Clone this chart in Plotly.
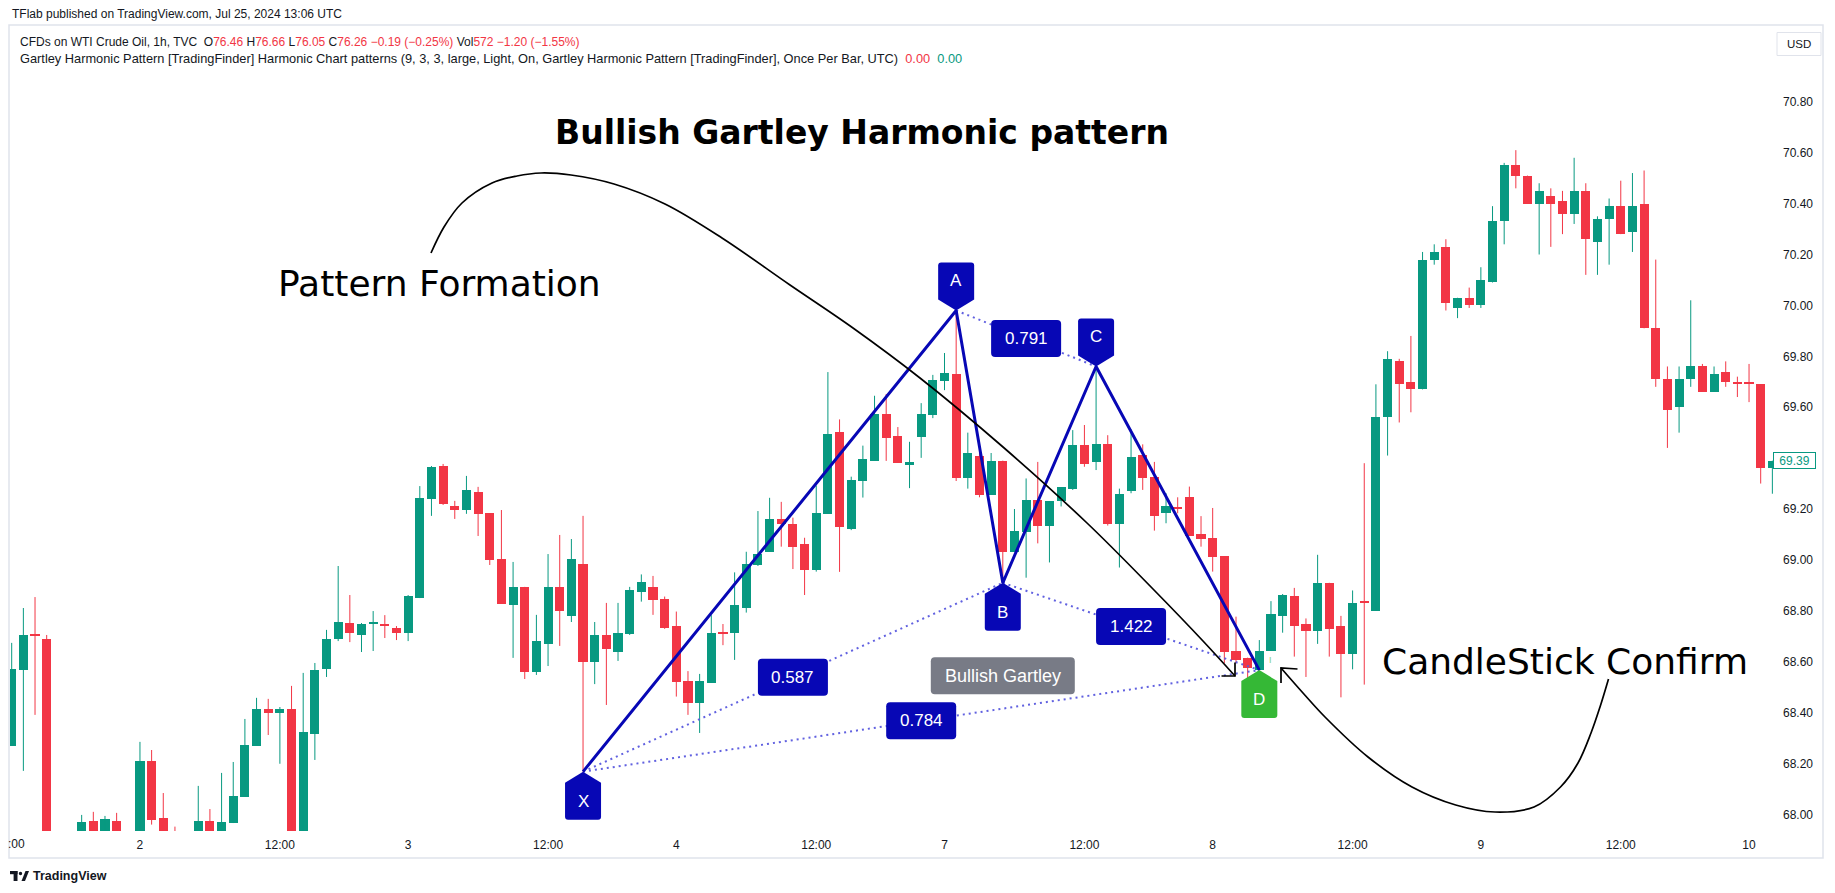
import plotly.graph_objects as go

# ---------------- data (1h candles, bar index 0 = 12:00 of the first day) ----------------
opens = [68.270, 68.567, 68.709, 68.689, 67.780, 67.820, 67.860, 67.974, 67.900, 67.974,
         67.880, 67.870, 68.210, 67.986, 67.930, 67.840, 67.880, 67.974, 67.920, 67.966,
         68.069, 68.270, 68.414, 68.400, 68.414, 67.880, 68.317, 68.571, 68.689, 68.752,
         68.705, 68.748, 68.744, 68.733, 68.713, 68.850, 69.239, 69.369, 69.212, 69.196,
         69.267, 69.184, 69.004, 68.823, 68.894, 68.560, 68.670, 68.894, 68.780, 68.984,
         68.599, 68.705, 68.638, 68.709, 68.875, 68.893, 68.848, 68.742, 68.526, 68.439,
         68.518, 68.713, 68.712, 68.812, 68.980, 69.032, 69.161, 69.141, 69.062, 68.960,
         69.182, 69.502, 69.121, 69.311, 69.390, 69.573, 69.487, 69.374, 69.484, 69.569,
         69.703, 69.730, 69.320, 69.410, 69.256, 69.390, 69.030, 69.110, 69.235, 69.135,
         69.230, 69.280, 69.450, 69.386, 69.455, 69.142, 69.270, 69.414, 69.326, 69.183,
         69.209, 69.247, 69.102, 69.087, 69.015, 68.642, 68.616, 68.567, 68.643, 68.780,
         68.860, 68.750, 68.720, 68.910, 68.740, 68.630, 68.840, 68.800, 69.560, 69.780,
         69.700, 69.670, 70.180, 70.230, 69.990, 70.030, 70.000, 70.090, 70.330, 70.550,
         70.510, 70.400, 70.430, 70.410, 70.360, 70.450, 70.250, 70.340, 70.390, 70.290,
         70.400, 69.910, 69.710, 69.600, 69.710, 69.760, 69.660, 69.740, 69.700, 69.700,
         69.690, 69.360]
highs = [68.674, 68.811, 68.854, 68.705, 67.880, 67.900, 67.998, 68.010, 67.994, 68.006,
         67.920, 68.285, 68.253, 68.084, 67.952, 67.920, 68.112, 68.021, 68.163, 68.206,
         68.375, 68.458, 68.454, 68.422, 68.505, 68.556, 68.595, 68.725, 68.976, 68.862,
         68.752, 68.799, 68.783, 68.740, 68.862, 69.290, 69.369, 69.377, 69.232, 69.330,
         69.287, 69.184, 69.196, 68.992, 68.894, 68.784, 69.023, 69.098, 69.082, 69.173,
         68.756, 68.831, 68.831, 68.894, 68.943, 68.937, 68.856, 68.797, 68.563, 68.552,
         68.783, 68.748, 68.951, 69.032, 69.192, 69.244, 69.228, 69.166, 69.087, 69.292,
         69.738, 69.552, 69.327, 69.449, 69.645, 69.652, 69.522, 69.464, 69.616, 69.727,
         69.813, 69.980, 69.500, 69.455, 69.420, 69.390, 69.200, 69.320, 69.385, 69.230,
         69.285, 69.510, 69.530, 69.760, 69.490, 69.280, 69.513, 69.454, 69.385, 69.262,
         69.246, 69.288, 69.172, 69.204, 69.015, 68.777, 68.616, 68.685, 68.838, 68.866,
         68.890, 68.770, 69.020, 68.910, 68.780, 68.880, 69.380, 69.690, 69.820, 69.790,
         69.880, 70.210, 70.240, 70.260, 70.030, 70.070, 70.150, 70.390, 70.560, 70.610,
         70.510, 70.480, 70.460, 70.450, 70.580, 70.480, 70.350, 70.420, 70.490, 70.520,
         70.530, 70.180, 69.760, 69.760, 70.020, 69.770, 69.760, 69.780, 69.720, 69.770,
         69.690, 69.390]
lows = [68.270, 68.171, 68.391, 67.700, 67.680, 67.720, 67.840, 67.860, 67.870, 67.850,
        67.800, 67.850, 67.960, 67.850, 67.800, 67.780, 67.860, 67.880, 67.900, 67.966,
        68.069, 68.270, 68.312, 68.199, 67.850, 67.860, 68.214, 68.540, 68.681, 68.677,
        68.638, 68.642, 68.693, 68.685, 68.681, 68.850, 69.173, 69.216, 69.161, 69.181,
        69.094, 68.980, 68.827, 68.615, 68.532, 68.548, 68.583, 68.662, 68.756, 68.168,
        68.512, 68.430, 68.603, 68.705, 68.836, 68.784, 68.729, 68.463, 68.391, 68.320,
        68.518, 68.665, 68.607, 68.793, 68.976, 69.032, 69.052, 68.964, 68.862, 68.954,
        69.182, 68.953, 69.117, 69.245, 69.390, 69.389, 69.382, 69.282, 69.401, 69.557,
        69.667, 69.310, 69.280, 69.246, 69.256, 68.910, 69.030, 68.930, 69.065, 68.990,
        69.210, 69.275, 69.366, 69.353, 69.135, 68.970, 69.262, 69.275, 69.115, 69.144,
        69.183, 69.095, 69.052, 68.954, 68.594, 68.594, 68.491, 68.567, 68.643, 68.714,
        68.620, 68.540, 68.670, 68.620, 68.460, 68.570, 68.510, 68.800, 69.410, 69.540,
        69.580, 69.670, 70.160, 69.980, 69.950, 69.990, 69.990, 70.090, 70.240, 70.460,
        70.400, 70.200, 70.230, 70.280, 70.320, 70.120, 70.120, 70.160, 70.280, 70.210,
        69.910, 69.680, 69.440, 69.500, 69.680, 69.660, 69.660, 69.680, 69.640, 69.620,
        69.300, 69.260]
closes = [68.571, 68.705, 68.701, 67.780, 67.820, 67.860, 67.970, 67.900, 67.982, 67.880,
          67.870, 68.210, 67.979, 67.880, 67.840, 67.880, 67.974, 67.920, 67.970, 68.072,
          68.273, 68.414, 68.400, 68.414, 67.880, 68.324, 68.567, 68.689, 68.756, 68.713,
          68.748, 68.756, 68.742, 68.713, 68.858, 69.243, 69.365, 69.220, 69.196, 69.275,
          69.181, 68.999, 68.827, 68.894, 68.560, 68.681, 68.894, 68.799, 69.004, 68.599,
          68.705, 68.650, 68.713, 68.882, 68.912, 68.844, 68.734, 68.522, 68.439, 68.526,
          68.714, 68.709, 68.823, 68.984, 69.024, 69.161, 69.141, 69.052, 68.960, 69.184,
          69.495, 69.131, 69.314, 69.396, 69.573, 69.480, 69.382, 69.385, 69.573, 69.707,
          69.736, 69.320, 69.420, 69.255, 69.390, 69.030, 69.115, 69.235, 69.135, 69.230,
          69.285, 69.450, 69.378, 69.455, 69.142, 69.260, 69.406, 69.323, 69.174, 69.212,
          69.201, 69.095, 69.083, 69.013, 68.640, 68.607, 68.574, 68.642, 68.786, 68.862,
          68.740, 68.720, 68.910, 68.730, 68.630, 68.830, 68.830, 69.560, 69.790, 69.690,
          69.670, 70.180, 70.210, 70.010, 70.030, 70.000, 70.100, 70.330, 70.550, 70.510,
          70.400, 70.450, 70.400, 70.360, 70.450, 70.260, 70.340, 70.390, 70.280, 70.390,
          69.910, 69.710, 69.590, 69.710, 69.760, 69.660, 69.730, 69.700, 69.690, 69.690,
          69.360, 69.390]

time_tick_bars = [11, 23, 34, 46, 57, 69, 80, 92, 103, 115, 126, 138, 149]
time_tick_labels = ["2", "12:00", "3", "12:00", "4", "12:00", "7", "12:00", "8",
                    "12:00", "9", "12:00", "10"]
price_ticks = [68.00, 68.20, 68.40, 68.60, 68.80, 69.00, 69.20, 69.60, 69.80,
               70.00, 70.20, 70.40, 70.60, 70.80]
last_price = 69.39

pattern_names = ["X", "A", "B", "C", "D"]
pattern_bars = [49, 81, 85, 93, 107]
pattern_prices = [68.168, 69.980, 68.910, 69.760, 68.567]
ratio_texts = ["0.587", "0.791", "1.422", "0.784"]
ratio_from = ["X", "A", "B", "X"]
ratio_to = ["B", "C", "D", "D"]

# ---------------- geometry of the picture ----------------
W, H = 1835, 893
PL, PR, PT, PB = 10, 1774, 26, 831          # plot pane in pixels
BAR0_PX, BAR_PX = 11.7, 11.66              # x pixel of bar 0, pixels per bar
REF_PRICE, REF_PY, PX_PER_UNIT = 70.80, 101.8, 254.5

x_range = [(PL - BAR0_PX) / BAR_PX, (PR - BAR0_PX) / BAR_PX]
y_range = [REF_PRICE - (PB - REF_PY) / PX_PER_UNIT, REF_PRICE + (REF_PY - PT) / PX_PER_UNIT]


def bx2px(b):
    return BAR0_PX + b * BAR_PX


def pr2py(p):
    return REF_PY + (REF_PRICE - p) * PX_PER_UNIT


def px2bx(px):
    return (px - BAR0_PX) / BAR_PX


def py2pr(py):
    return REF_PRICE - (py - REF_PY) / PX_PER_UNIT


def pap(px, py):
    return (px - PL) / (PR - PL), (PB - py) / (PB - PT)


def fmt(px, py):
    return f"{px2bx(px):.4f},{py2pr(py):.5f}"


GREEN, RED = "#089981", "#f23645"
BLUE = "#0707b5"
DOT = "rgba(88,88,222,0.95)"
TXT = "#131722"

fig = go.Figure()

# ---------------- candles ----------------
n = len(opens)
bars = list(range(n))
colors = [GREEN if c >= o else RED for o, c in zip(opens, closes)]
min_h = 1.2 / PX_PER_UNIT
bases = [min(o, c) for o, c in zip(opens, closes)]
heights = [max(abs(c - o), min_h) for o, c in zip(opens, closes)]

for col in (GREEN, RED):
    xs, ys = [], []
    for i in range(n):
        if colors[i] == col:
            xs += [i, i, None]
            ys += [lows[i], highs[i], None]
    fig.add_trace(go.Scatter(x=xs, y=ys, mode="lines", line=dict(color=col, width=1),
                             hoverinfo="skip"))

fig.add_trace(go.Bar(x=bars, y=heights, base=bases, width=0.78,
                     marker=dict(color=colors, line=dict(width=0)), hoverinfo="skip"))

# ---------------- harmonic pattern ----------------
pidx = {nm: i for i, nm in enumerate(pattern_names)}
dx, dy = [], []
for a, b in zip(ratio_from, ratio_to):
    dx += [pattern_bars[pidx[a]], pattern_bars[pidx[b]], None]
    dy += [pattern_prices[pidx[a]], pattern_prices[pidx[b]], None]
fig.add_trace(go.Scatter(x=dx, y=dy, mode="lines",
                         line=dict(color=DOT, width=2, dash="2px,4px"), hoverinfo="skip"))
fig.add_trace(go.Scatter(x=pattern_bars, y=pattern_prices, mode="lines",
                         line=dict(color=BLUE, width=3), hoverinfo="skip"))

# ---------------- hand-drawn arrows (pixel sketch, converted to chart units) ----------------
formation_curve_px = [(431, 253), (444, 227), (462, 203), (492, 183), (517, 176), (541, 173),
                      (571, 175), (614, 184), (665, 204), (722, 238), (790, 285), (853, 328),
                      (920, 378), (1003, 447), (1087, 523), (1153, 589), (1203, 641),
                      (1235, 676)]
formation_head_px = [(1221.5, 676), (1235, 676), (1235, 662.5)]
confirm_curve_px = [(1608.5, 679), (1600, 707), (1591, 733), (1578, 763), (1560.5, 787),
                    (1534, 807), (1495, 812), (1455.7, 805), (1412, 787), (1368, 757),
                    (1325, 717), (1303, 693), (1281, 668)]
confirm_head_px = [(1281, 683), (1281, 668), (1297.5, 669)]

for pts, shape in ((formation_curve_px, "spline"), (formation_head_px, "linear"),
                   (confirm_curve_px, "spline"), (confirm_head_px, "linear")):
    fig.add_trace(go.Scatter(x=[px2bx(p[0]) for p in pts], y=[py2pr(p[1]) for p in pts],
                             mode="lines",
                             line=dict(color="black", width=1.7, shape=shape, smoothing=1.0),
                             hoverinfo="skip"))

shapes = []
annotations = []


def round_rect_path(cx, cy, w, h, r):
    l, rr, t, b = cx - w / 2, cx + w / 2, cy - h / 2, cy + h / 2
    return (f"M {fmt(l + r, t)} L {fmt(rr - r, t)} Q {fmt(rr, t)} {fmt(rr, t + r)} "
            f"L {fmt(rr, b - r)} Q {fmt(rr, b)} {fmt(rr - r, b)} L {fmt(l + r, b)} "
            f"Q {fmt(l, b)} {fmt(l, b - r)} L {fmt(l, t + r)} Q {fmt(l, t)} {fmt(l + r, t)} Z")


def point_label(name, b, p, color, down):
    w, h, tip, r = 36, 37, 11, 3
    cx, ty = bx2px(b), pr2py(p)
    s = -1 if down else 1
    y1 = ty + s * tip
    y2 = ty + s * (tip + h)
    l, rr = cx - w / 2, cx + w / 2
    path = (f"M {fmt(cx, ty)} L {fmt(l, y1)} L {fmt(l, y2 - s * r)} Q {fmt(l, y2)} {fmt(l + r, y2)} "
            f"L {fmt(rr - r, y2)} Q {fmt(rr, y2)} {fmt(rr, y2 - s * r)} L {fmt(rr, y1)} Z")
    shapes.append(dict(type="path", path=path, xref="x", yref="y", fillcolor=color,
                       line=dict(width=0), layer="above"))
    annotations.append(dict(x=px2bx(cx), y=py2pr(ty + s * (tip + h / 2)), xref="x", yref="y",
                            text=name, showarrow=False,
                            font=dict(family="Liberation Sans", size=17, color="white")))


def box_label(text, cx, cy, w, color, size=17):
    shapes.append(dict(type="path", path=round_rect_path(cx, cy, w, 37, 4), xref="x", yref="y",
                       fillcolor=color, line=dict(width=0), layer="above"))
    annotations.append(dict(x=px2bx(cx), y=py2pr(cy), xref="x", yref="y", text=text,
                            showarrow=False,
                            font=dict(family="Liberation Sans", size=size, color="white")))


for t, a, b in zip(ratio_texts, ratio_from, ratio_to):
    ia, ib = pidx[a], pidx[b]
    cx = (bx2px(pattern_bars[ia]) + bx2px(pattern_bars[ib])) / 2
    cy = (pr2py(pattern_prices[ia]) + pr2py(pattern_prices[ib])) / 2
    box_label(t, cx, cy, 70, BLUE)

box_label("Bullish Gartley", bx2px(85), pr2py(68.545), 144, "#787b86", size=18)

for nm, b, p in zip(pattern_names, pattern_bars, pattern_prices):
    point_label(nm, b, p, "#35b836" if nm == "D" else BLUE, down=nm in ("A", "C"))

# tiny marker next to D
annotations.append(dict(x=108, y=py2pr(660), xref="x", yref="y", text="I", showarrow=False,
                        font=dict(family="Liberation Sans", size=9, color="#7fd17f")))


# ---------------- big texts ----------------
def ptext(text, px, py, size, bold=False, xanchor="center", color="black", family="DejaVu Sans"):
    x, y = pap(px, py)
    annotations.append(dict(x=x, y=y, xref="paper", yref="paper", text=f"<b>{text}</b>" if bold else text,
                            showarrow=False, xanchor=xanchor, yanchor="middle",
                            font=dict(family=family, size=size, color=color)))


ptext("Bullish Gartley Harmonic pattern", 861.5, 133, 33, bold=True)
ptext("Pattern Formation", 439, 283, 36)
ptext("CandleStick Confirm", 1565, 661, 36)

# ---------------- header / legend ----------------
NB = "\u00a0"
ptext("TFlab published on TradingView.com, Jul 25, 2024 13:06 UTC", 10, 14, 12,
      xanchor="left", color=TXT, family="Liberation Sans")


def red(s):
    return f"<span style='color:{RED}'>{s}</span>"


line1 = ("CFDs on WTI Crude Oil, 1h, TVC" + NB * 2 + "O" + red("76.46") + NB + "H" + red("76.66")
         + NB + "L" + red("76.05") + NB + "C" + red("76.26") + NB + red("−0.19 (−0.25%)")
         + NB + "Vol" + red("572") + NB + red("−1.20 (−1.55%)"))
line2 = ("Gartley Harmonic Pattern [TradingFinder] Harmonic Chart patterns (9, 3, 3, large, Light, On, "
         "Gartley Harmonic Pattern [TradingFinder], Once Per Bar, UTC)" + NB * 2 + red("0.00") + NB * 2
         + f"<span style='color:{GREEN}'>0.00</span>")
ptext(line1, 18, 42, 12, xanchor="left", color=TXT, family="Liberation Sans")
ptext(line2, 18, 58, 12.8, xanchor="left", color=TXT, family="Liberation Sans")

# left partially hidden time label
ptext(":00", 27, 844, 12, xanchor="right", color=TXT, family="Liberation Sans")

# USD box
ux0, uy0 = pap(1777, 32.5)
ux1, uy1 = pap(1821, 55.5)
shapes.append(dict(type="rect", xref="paper", yref="paper", x0=ux0, y0=uy0, x1=ux1, y1=uy1,
                   line=dict(color="#e0e3eb", width=1), fillcolor="white"))
ptext("USD", 1799, 44, 11.5, color=TXT, family="Liberation Sans")

# last price label
lx, _ = pap(1773, 0)
annotations.append(dict(x=lx, y=last_price, xref="paper", yref="y", xanchor="left", yanchor="middle",
                        text=f"{last_price:.2f}", showarrow=False, bgcolor="white",
                        bordercolor=GREEN, borderwidth=1, borderpad=1, width=39, height=13,
                        font=dict(family="Liberation Sans", size=12, color=GREEN)))

# chart frame
fx0, fy0 = pap(9, 25)
fx1, fy1 = pap(1823, 858)
shapes.append(dict(type="rect", xref="paper", yref="paper", x0=fx0, y0=fy1, x1=fx1, y1=fy0,
                   line=dict(color="#e0e3eb", width=1.5), fillcolor="rgba(0,0,0,0)", layer="below"))

# TradingView footer logo + text
for (a0, b0, a1, b1) in [(10, 871, 17.5, 874.2), (13.6, 871, 17.5, 881)]:
    x0, y0 = pap(a0, b1)
    x1, y1 = pap(a1, b0)
    shapes.append(dict(type="rect", xref="paper", yref="paper", x0=x0, y0=y0, x1=x1, y1=y1,
                       line=dict(width=0), fillcolor=TXT))
cx0, cy0 = pap(18.8, 875.2)
cx1, cy1 = pap(22.2, 871.8)
shapes.append(dict(type="circle", xref="paper", yref="paper", x0=cx0, y0=cy0, x1=cx1, y1=cy1,
                   line=dict(width=0), fillcolor=TXT))
p1, p2, p3, p4 = pap(21.5, 881), pap(25.5, 871), pap(29, 871), pap(25, 881)
shapes.append(dict(type="path", xref="paper", yref="paper",
                   path=f"M {p1[0]},{p1[1]} L {p2[0]},{p2[1]} L {p3[0]},{p3[1]} L {p4[0]},{p4[1]} Z",
                   line=dict(width=0), fillcolor=TXT))
ptext("<b>TradingView</b>", 31, 876, 12.5, xanchor="left", color=TXT, family="Liberation Sans")

fig.update_layout(
    width=W, height=H,
    margin=dict(l=PL, r=W - PR, t=PT, b=H - PB, pad=0),
    paper_bgcolor="white", plot_bgcolor="white",
    showlegend=False, hovermode=False, bargap=0,
    shapes=shapes, annotations=annotations,
    xaxis=dict(range=x_range, showgrid=False, zeroline=False, showline=False,
               tickmode="array", tickvals=time_tick_bars, ticktext=time_tick_labels,
               ticks="", ticklabelstandoff=5,
               tickfont=dict(family="Liberation Sans", size=12, color=TXT), fixedrange=True),
    yaxis=dict(range=y_range, side="right", showgrid=False, zeroline=False, showline=False,
               tickmode="array", tickvals=price_ticks, ticktext=[f"{v:.2f}" for v in price_ticks],
               ticks="", ticklabelstandoff=8,
               tickfont=dict(family="Liberation Sans", size=12, color=TXT), fixedrange=True),
)

fig.write_html("out.html", config={"displayModeBar": False})
